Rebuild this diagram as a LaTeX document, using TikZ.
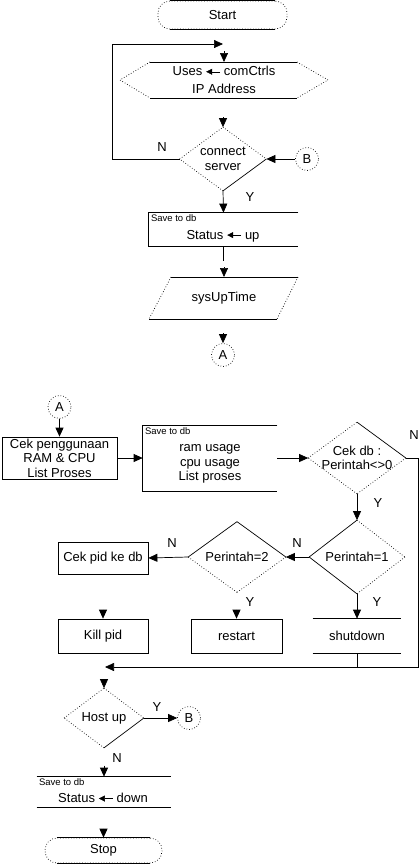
\documentclass[tikz,border=0pt]{standalone}
\usepackage{fontspec}
\setmainfont{Liberation Sans}
\usetikzlibrary{arrows.meta,shapes.geometric}

% arrow used inside the texts
\newcommand\getsarr{\tikz[x=1pt,y=1pt,baseline=-0.6ex]\draw[-{Triangle[length=6pt,width=6pt]}] (14,0) -- (0,0);}
% diamond border, one style per side (ne, se, sw, nw)
\newcommand\diaedges[5]{%
  \draw[#2] (#1.north) -- (#1.east);
  \draw[#3] (#1.east) -- (#1.south);
  \draw[#4] (#1.south) -- (#1.west);
  \draw[#5] (#1.west) -- (#1.north);}

\begin{document}
\begin{tikzpicture}[
  x=1pt, y=-1pt, line width=0.7pt,
  every node/.style={font=\fontsize{13}{14.5}\selectfont, inner sep=0pt, align=center},
  note/.style={font=\fontsize{9.5}{11}\selectfont, anchor=north west, inner sep=2pt},
  term/.style={draw, dotted, rounded corners=12pt, minimum width=#1, minimum height=28pt},
  box/.style 2 args={rectangle, minimum width=#1, minimum height=#2},
  dec/.style 2 args={diamond, aspect=1.35, minimum width=#1, minimum height=#2},
  onpage/.style={circle, draw, dotted, minimum size=23pt},
  arr/.style={-{Triangle[length=9pt,width=8pt]}},
  yn/.style={font=\fontsize{13}{14}\selectfont}
]
\useasboundingbox (0,0) rectangle (419,865);

% ---- first part
\node[term=129pt] (start) at (222.5,15) {Start};
\draw (start.north west) ++(12,0) -- ([xshift=-12pt]start.north east)
      (start.south west) ++(12,0) -- ([xshift=-12pt]start.south east);

\node (uses) at (224,80) {Uses \getsarr{} comCtrls\\[3pt]IP Address};
\path (uses) +(0,-18) coordinate (uses top);
\draw (uses) +(-74,-18) -- +(73,-18) +(-74,18) -- +(73,18);
\draw[dotted] (uses) +(-74,-18) -- +(-104,0) -- +(-74,18) +(73,-18) -- +(104,0) -- +(73,18);
\draw[arr] (uses top) ++(0,-11) -- (uses top);

\coordinate (loop in) at (223,44);
\node[dec={86pt}{63pt}] (conn) at (223,159) {connect\\server};
\diaedges{conn}{dotted}{solid}{dotted}{dotted}
\draw[arr] (conn.north) ++(0,-10) -- (conn.north);
\draw[arr] (conn.west) -- ++(-67,0) |- (loop in);
\node[yn] (n1) at (162,147) {N};
\node[onpage] (b1) at (307,159) {B};
\draw[arr] (b1) -- (conn.east);

\node[box={149pt}{33pt}] (saveup) at (223.5,229.5) {};
\draw (saveup.north east) -- (saveup.north west) -- (saveup.south west) -- (saveup.south east);
\node[note] (saveup note) at (saveup.north west) {Save to db};
\node (saveup txt) at (223,236) {Status \getsarr{} up};
\draw[arr] (conn.south) -- (saveup.north);
\node[yn] (y1) at (250,197) {Y};

\node (sysup) at (224,298) {sysUpTime};
\path (sysup) +(0,-21) coordinate (sysup top);
\draw (sysup) +(-53,-21) -- +(74,-21) +(-75,21) -- +(53,21);
\draw[dotted] (sysup) +(-53,-21) -- +(-75,21) +(74,-21) -- +(53,21);
\draw (saveup.south) -- ++(0,15);
\draw[arr] (sysup top) ++(0,-10) -- (sysup top);

\node[onpage] (a1) at (223,355) {A};
\draw[arr] (a1.north) ++(0,-10) -- (a1.north);

% ---- second part
\node[onpage] (a2) at (59.5,407) {A};
\node[box={115pt}{42pt}, draw] (cekuse) at (59.5,458) {Cek penggunaan\\RAM \& CPU\\List Proses};
\draw[arr] (a2) -- (cekuse);

\node[box={134pt}{65pt}] (save2) at (210,458) {};
\draw (save2.north east) -- (save2.north west) -- (save2.south west) -- (save2.south east);
\node[note] (save2 note) at (save2.north west) {Save to db};
\node (save2 txt) at (210,464) {ram usage\\cpu usage\\List proses};
\draw[arr] (cekuse) -- (save2);

\node[dec={97pt}{71pt}, inner xsep=-6pt] (cekdb) at (357,458) {Cek db :\\Perintah<>0};
\diaedges{cekdb}{solid}{dotted}{dotted}{dotted}
\draw[arr] (save2.east) -- (cekdb.west);
\coordinate (join) at (105,667);
\draw[arr] (cekdb.east) -- ++(12,0) |- (join);
\node[yn] (n2) at (414,435) {N};

\node[dec={95pt}{73pt}] (p1) at (357,557) {Perintah=1};
\diaedges{p1}{dotted}{dotted}{solid}{solid}
\draw[arr] (cekdb.south) -- (p1.north);
\node[yn] (y2) at (378,503) {Y};

\node[dec={97pt}{70pt}] (p2) at (237,557) {Perintah=2};
\diaedges{p2}{solid}{dotted}{dotted}{solid}
\draw[arr] (p1.west) -- (p2.east);
\node[yn] (n3) at (297,543) {N};

\node[box={90pt}{32pt}, draw] (cekpid) at (103,558) {Cek pid ke db};
\draw[arr] (p2.west) -- (cekpid.east);
\node[yn] (n4) at (172,543) {N};

\node[box={90pt}{34pt}, draw] (kill) at (103,636) {Kill pid};
\draw[arr] (kill.north) ++(0,-9) -- (kill.north);
\node[box={91pt}{34pt}, draw] (restart) at (236.5,636) {restart};
\draw[arr] (restart.north) ++(0,-9) -- (restart.north);
\node[yn] (y3) at (250,602) {Y};
\node[box={88pt}{34pt}] (shut) at (357,636) {shutdown};
\draw (shut.north west) -- (shut.north east) (shut.south west) -- (shut.south east);
\draw[arr] (p1.south) -- (shut.north);
\node[yn] (y4) at (377,602) {Y};
\draw (shut.south) -- (shut.south |- join);

\node[dec={79pt}{59pt}] (host) at (104,718) {Host up};
\diaedges{host}{dotted}{solid}{dotted}{dotted}
\draw[arr] (host.north) ++(0,-9) -- (host.north);
\node[onpage] (b2) at (189,718) {B};
\draw[arr] (host.east) -- (b2);
\node[yn] (y5) at (157,707) {Y};
\node[yn] (n5) at (117,758) {N};

\node[box={134pt}{30pt}] (savedown) at (104,792) {};
\draw (savedown.north west) -- (savedown.north east) (savedown.south west) -- (savedown.south east);
\node[note] (savedown note) at (savedown.north west) {Save to db};
\node (savedown txt) at (103,798) {Status \getsarr{} down};
\draw[arr] (savedown.north) ++(0,-11) -- (savedown.north);

\node[term=117pt, minimum height=25pt] (stop) at (103.5,850.5) {Stop};
\draw (stop.north west) ++(12,0) -- ([xshift=-12pt]stop.north east)
      (stop.south west) ++(12,0) -- ([xshift=-12pt]stop.south east);
\draw[arr] (stop.north) ++(0,-9) -- (stop.north);
\end{tikzpicture}
\end{document}
